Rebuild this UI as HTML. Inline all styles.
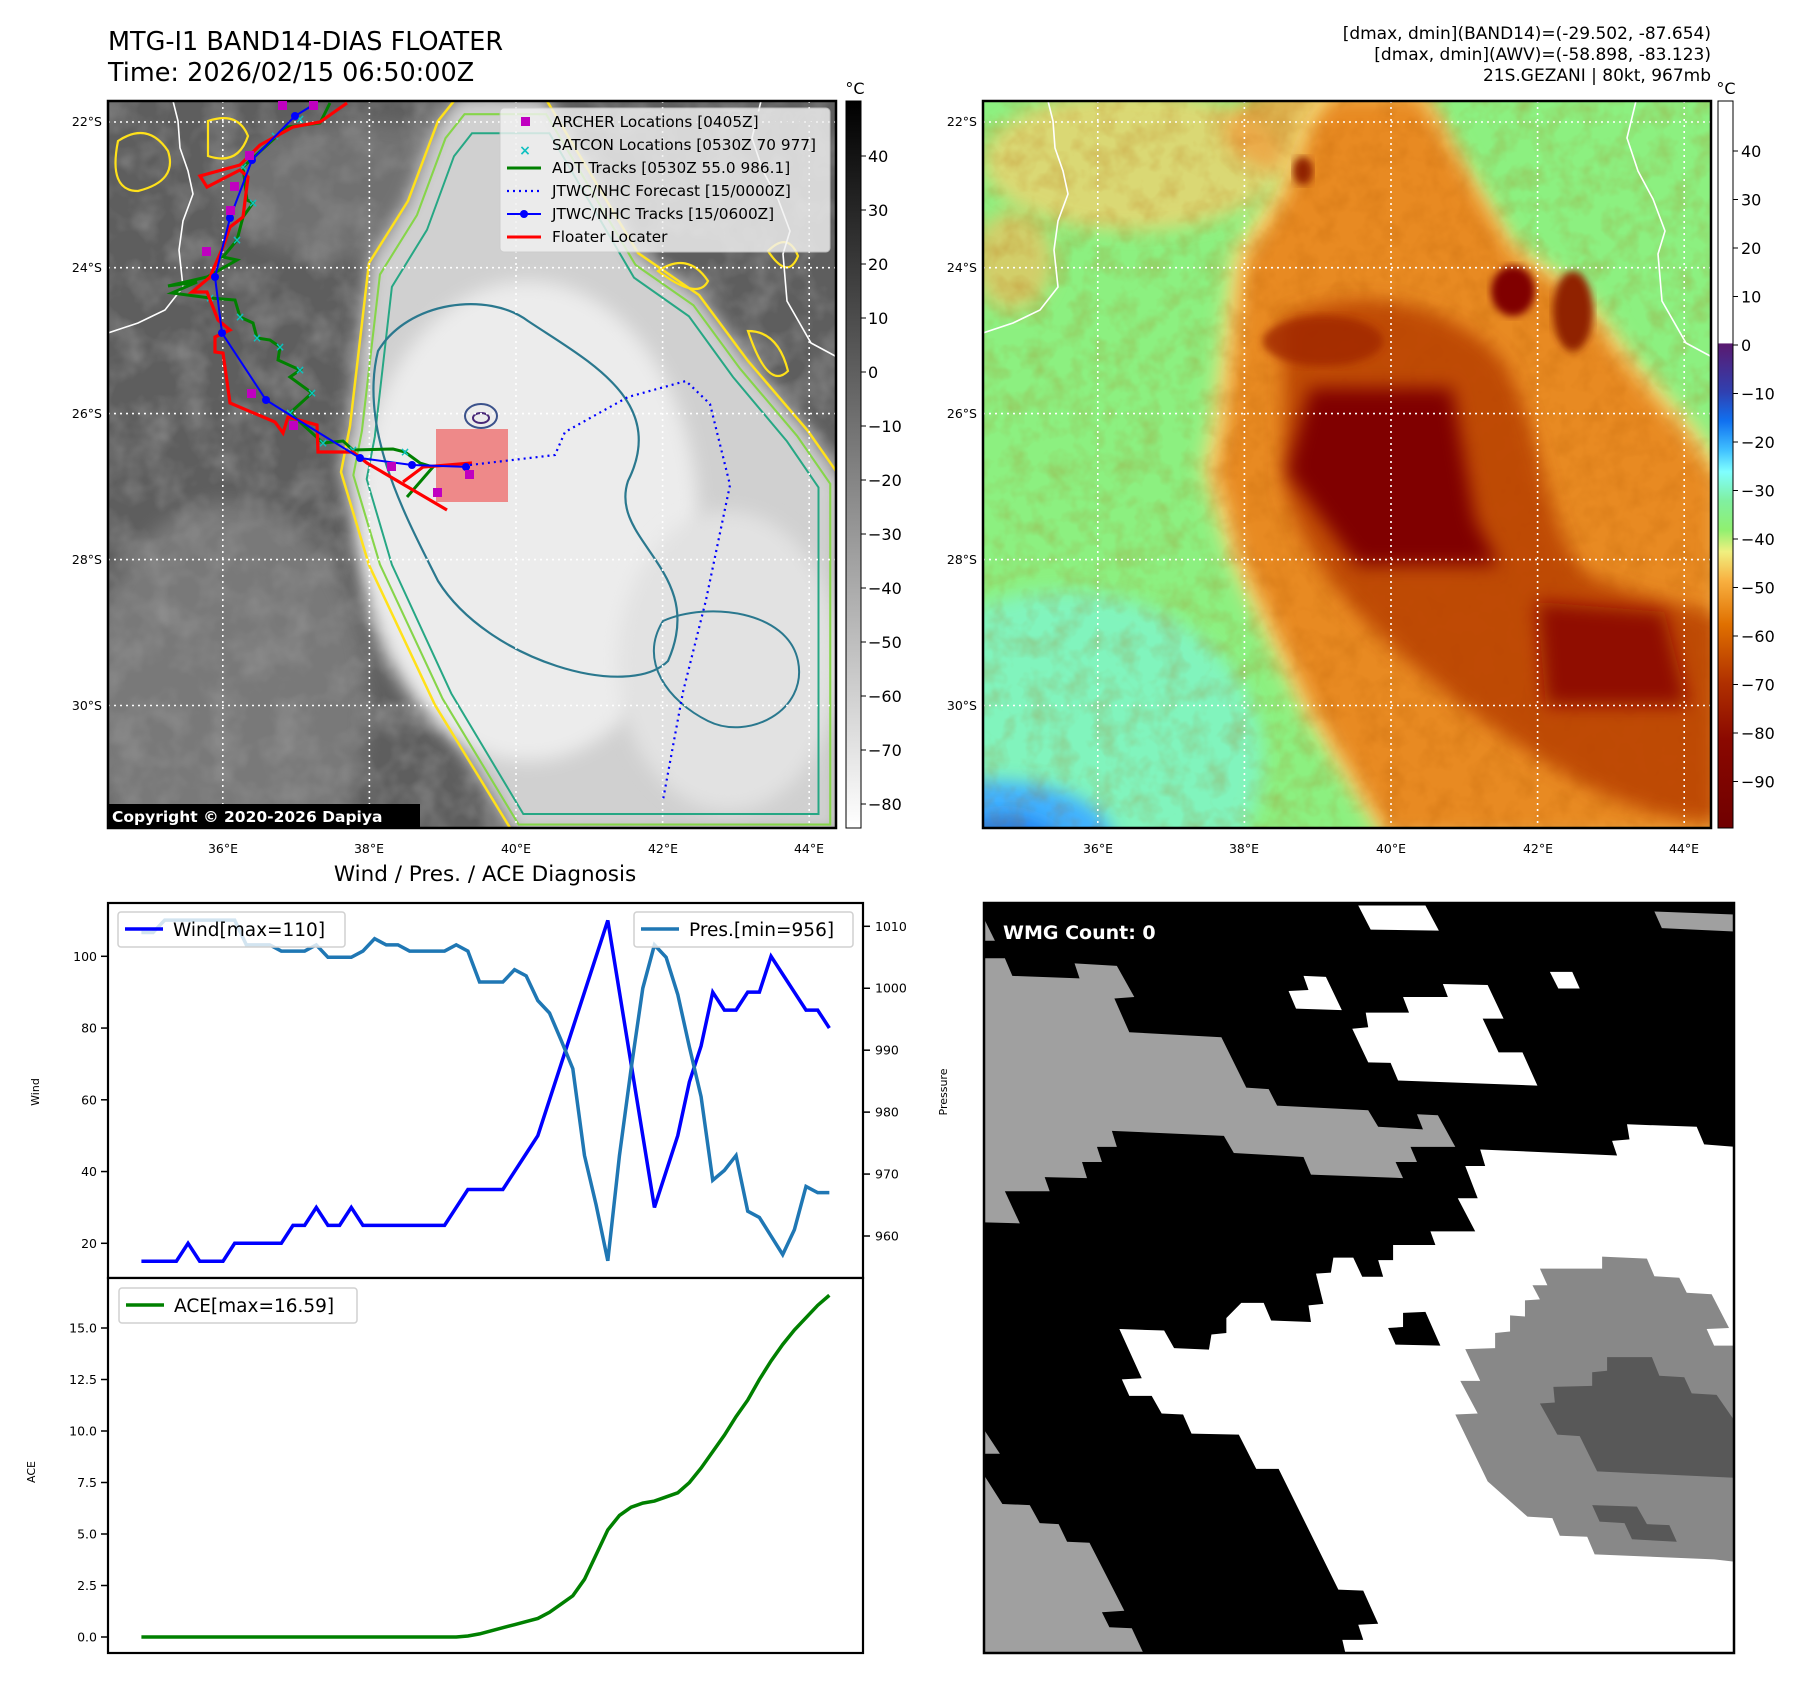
<!DOCTYPE html>
<html><head><meta charset="utf-8"><style>
html,body{margin:0;padding:0;background:#fff;}
svg{display:block;font-family:"DejaVu Sans","Liberation Sans",sans-serif;}
</style></head><body>
<svg id="fig" width="1801" height="1690" viewBox="0 0 1801 1690" xmlns="http://www.w3.org/2000/svg">
<defs>
  <clipPath id="mapclip"><rect x="0" y="0" width="728" height="727"/></clipPath>
  <clipPath id="wmgclip"><rect x="984" y="903" width="750" height="750"/></clipPath>
  <filter id="blur8" x="-20%" y="-20%" width="140%" height="140%"><feGaussianBlur stdDeviation="9"/></filter>
  <filter id="blur4"><feGaussianBlur stdDeviation="4"/></filter>
  <filter id="noise" x="0" y="0" width="100%" height="100%">
    <feTurbulence type="fractalNoise" baseFrequency="0.03" numOctaves="3" seed="4"/>
    <feColorMatrix type="matrix" values="0 0 0 0 1  0 0 0 0 1  0 0 0 0 1  1.4 0 0 0 -0.55"/>
  </filter>
  <filter id="noiseDark" x="0" y="0" width="100%" height="100%">
    <feTurbulence type="fractalNoise" baseFrequency="0.045" numOctaves="3" seed="9"/>
    <feColorMatrix type="matrix" values="0 0 0 0 0.45  0 0 0 0 0.1  0 0 0 0 0  1.5 0 0 0 -0.6"/>
  </filter>
  <linearGradient id="cbGray" x1="0" y1="0" x2="0" y2="1">
    <stop offset="0" stop-color="#000"/><stop offset="1" stop-color="#fff"/>
  </linearGradient>
  <linearGradient id="cbColor" x1="0" y1="0" x2="0" y2="1">
    <stop offset="0" stop-color="#fff"/>
    <stop offset="0.333" stop-color="#fff"/>
    <stop offset="0.334" stop-color="#5a1a70"/>
    <stop offset="0.40" stop-color="#3040b0"/>
    <stop offset="0.44" stop-color="#1070f0"/>
    <stop offset="0.48" stop-color="#40c0ff"/>
    <stop offset="0.51" stop-color="#80ffff"/>
    <stop offset="0.55" stop-color="#80f0a0"/>
    <stop offset="0.59" stop-color="#90f070"/>
    <stop offset="0.62" stop-color="#f0f080"/>
    <stop offset="0.66" stop-color="#f8b040"/>
    <stop offset="0.72" stop-color="#e07000"/>
    <stop offset="0.80" stop-color="#b03000"/>
    <stop offset="0.88" stop-color="#8a0800"/>
    <stop offset="1" stop-color="#700000"/>
  </linearGradient>
  <path id="stormOutline" d="M350,-5 L436,-5 L530,152 L591,194 L640,260 L700,330 L735,380 L735,735 L407,735 L327,604 L261,464 L233,371 L242,325 L261,162 L300,100 L330,20 Z"/>
</defs>

<!-- Titles -->
<text x="108" y="50" font-size="25.5">MTG-I1 BAND14-DIAS FLOATER</text>
<text x="108" y="81" font-size="25.5">Time: 2026/02/15 06:50:00Z</text>
<g font-size="17" text-anchor="end">
  <text x="1711" y="39">[dmax, dmin](BAND14)=(-29.502, -87.654)</text>
  <text x="1711" y="60">[dmax, dmin](AWV)=(-58.898, -83.123)</text>
  <text x="1711" y="81">21S.GEZANI | 80kt, 967mb</text>
</g>

<!-- LEFT MAP -->
<g transform="translate(108,101)">
  <g clip-path="url(#mapclip)">
    <rect width="728" height="727" fill="#5e5e5e"/>
    <rect width="728" height="727" filter="url(#noise)" opacity="0.3"/>
    <ellipse cx="120" cy="600" rx="140" ry="200" fill="#9a9a9a" opacity="0.45" filter="url(#blur8)"/>
    <ellipse cx="250" cy="90" rx="140" ry="70" fill="#8a8a8a" opacity="0.45" filter="url(#blur8)"/>
    <use href="#stormOutline" fill="#d0d0d0" filter="url(#blur8)"/>
    <ellipse cx="420" cy="420" rx="170" ry="240" fill="#ececec" filter="url(#blur8)"/>
    <ellipse cx="620" cy="560" rx="110" ry="150" fill="#e2e2e2" filter="url(#blur8)"/>
    <!-- contours -->
    <use href="#stormOutline" fill="none" stroke="#ffe11a" stroke-width="2.5"/>
    <use href="#stormOutline" fill="none" stroke="#86d549" stroke-width="2.2" transform="translate(480,450) scale(0.95,0.96) translate(-480,-450)"/>
    <use href="#stormOutline" fill="none" stroke="#26a784" stroke-width="2.2" transform="translate(490,460) scale(0.9,0.92) translate(-490,-460)"/>
    <path d="M270,250 C300,200 380,190 420,220 C480,260 560,300 520,380 C500,440 600,470 560,560 C520,600 380,560 330,480 C300,420 250,330 270,250 Z" fill="none" stroke="#2a788e" stroke-width="2.2"/>
    <path d="M555,520 C600,500 680,510 690,560 C700,610 640,640 600,620 C560,600 530,560 555,520 Z" fill="none" stroke="#2a788e" stroke-width="2"/>
    <ellipse cx="373" cy="315" rx="16" ry="12" fill="none" stroke="#3b528b" stroke-width="2"/>
    <ellipse cx="373" cy="317" rx="8" ry="5" fill="none" stroke="#482878" stroke-width="2"/>
    <path d="M10,40 q30,-20 50,10 q10,30 -30,40 q-30,0 -20,-50 Z M100,20 q30,-10 40,15 q-10,30 -40,20 Z M550,170 q30,-20 50,10 q-10,20 -50,-10 Z M660,150 q20,-20 30,5 q-10,25 -30,-5 Z M640,230 q30,0 40,40 q-20,20 -40,-40 Z" fill="none" stroke="#ffe11a" stroke-width="2.2"/>
    <g stroke="#fff" stroke-width="1.6" stroke-dasharray="2,4">
      <line x1="114.8" y1="0" x2="114.8" y2="727"/><line x1="261.4" y1="0" x2="261.4" y2="727"/><line x1="408" y1="0" x2="408" y2="727"/><line x1="554.6" y1="0" x2="554.6" y2="727"/><line x1="701.2" y1="0" x2="701.2" y2="727"/>
      <line x1="0" y1="21" x2="728" y2="21"/><line x1="0" y1="166.7" x2="728" y2="166.7"/><line x1="0" y1="312.6" x2="728" y2="312.6"/><line x1="0" y1="458.6" x2="728" y2="458.6"/><line x1="0" y1="604.5" x2="728" y2="604.5"/>
    </g>
    <g fill="none" stroke="#fff" stroke-width="1.6">
      <polyline points="65,0 70,20 72,47 80,70 85,93 75,120 71,149 75,186 57,209 30,222 0,232"/>
      <polyline points="653,0 644,37 655,70 670,98 682,130 675,153 679,200 703,242 729,256"/>
    </g>
  </g>
  <rect width="728" height="727" fill="none" stroke="#000" stroke-width="2.5"/>
</g>

<!-- Tracks on left map -->
<g>
  <rect x="436" y="429" width="72" height="73" fill="#f06060" opacity="0.7"/>
  <polyline fill="none" stroke="#008000" stroke-width="3" points="330,103 320,123 287,127 243,167 247,200 253,203 243,217 237,240 223,257 237,260 207,277 168,286 197,282 172,293 210,298 235,300 240,317 253,323 257,338 270,340 280,347 278,360 300,370 290,377 312,393 290,413 323,443 343,441 353,450 393,449 405,452 420,463 433,467 407,497"/>
  <g fill="#10c0c0" font-size="12" font-weight="bold" text-anchor="middle">
    <text x="243" y="171">×</text><text x="253" y="207">×</text><text x="237" y="244">×</text><text x="210" y="302">×</text><text x="240" y="321">×</text><text x="257" y="342">×</text><text x="280" y="351">×</text><text x="300" y="374">×</text><text x="312" y="397">×</text><text x="290" y="417">×</text><text x="323" y="447">×</text><text x="353" y="454">×</text><text x="405" y="456">×</text><text x="300" y="123">×</text><text x="275" y="140">×</text>
  </g>
  <polyline fill="none" stroke="#ff0000" stroke-width="3.2" points="347,103 320,122 293,127 260,145 240,165 200,176 207,187 240,170 248,177 243,217 230,227 223,247 210,277 192,292 207,292 218,320 230,330 215,337 215,352 223,353 230,403 275,422 283,433 288,417 317,425 318,452 353,452 367,463 447,510"/>
  <polyline fill="none" stroke="#ff0000" stroke-width="3.2" points="403,482 423,467 472,463"/>
  <polyline fill="none" stroke="#0000ff" stroke-width="2.2" stroke-dasharray="2,4" points="470,465 555,455 565,432 628,397 686,381 710,404 730,485 706,600 683,692 663,800"/>
  <polyline fill="none" stroke="#0000ff" stroke-width="2" points="313,105 295,116 252,160 230,218 215,277 222,333 266,400 290,415 360,458 412,465 470,467"/>
  <g fill="#0000ff">
    <circle cx="295" cy="116" r="4"/><circle cx="252" cy="160" r="4"/><circle cx="230" cy="218" r="4"/><circle cx="215" cy="277" r="4"/><circle cx="222" cy="333" r="4"/><circle cx="266" cy="400" r="4"/><circle cx="360" cy="458" r="4"/><circle cx="412" cy="465" r="4"/><circle cx="466" cy="467" r="4"/>
  </g>
  <g fill="#c000c0">
    <rect x="278" y="101" width="9" height="9"/><rect x="309" y="101" width="9" height="9"/><rect x="245" y="151" width="9" height="9"/><rect x="230" y="182" width="9" height="9"/><rect x="226" y="206" width="9" height="9"/><rect x="202" y="247" width="9" height="9"/><rect x="247" y="389" width="9" height="9"/><rect x="289" y="421" width="9" height="9"/><rect x="387" y="462" width="9" height="9"/><rect x="433" y="488" width="9" height="9"/><rect x="465" y="470" width="9" height="9"/>
  </g>
</g>

<!-- Left map legend -->
<g>
  <rect x="500" y="108" width="330" height="144" rx="4" fill="#f2f2f2" opacity="0.82" stroke="#ccc"/>
  <text x="640" y="124" font-size="17" font-weight="bold" fill="#d8d8d8">© EUMETSAT 2026</text>
  <g font-size="15.3" fill="#000">
    <rect x="521" y="117" width="9" height="9" fill="#c000c0"/><text x="552" y="127">ARCHER Locations [0405Z]</text>
    <text x="525" y="155" fill="#10c0c0" font-weight="bold" text-anchor="middle" font-size="14">×</text><text x="552" y="150">SATCON Locations [0530Z 70 977]</text>
    <line x1="507" y1="168" x2="541" y2="168" stroke="#008000" stroke-width="3"/><text x="552" y="173">ADT Tracks [0530Z 55.0 986.1]</text>
    <line x1="507" y1="191" x2="541" y2="191" stroke="#0000ff" stroke-width="2.2" stroke-dasharray="2,4"/><text x="552" y="196">JTWC/NHC Forecast [15/0000Z]</text>
    <line x1="507" y1="214" x2="541" y2="214" stroke="#0000ff" stroke-width="2"/><circle cx="524" cy="214" r="4" fill="#0000ff"/><text x="552" y="219">JTWC/NHC Tracks [15/0600Z]</text>
    <line x1="507" y1="237" x2="541" y2="237" stroke="#ff0000" stroke-width="3"/><text x="552" y="242">Floater Locater</text>
  </g>
</g>
<g>
  <rect x="108" y="804" width="312" height="24" fill="#000"/>
  <text x="112" y="822" font-size="15.5" font-weight="bold" fill="#fff">Copyright © 2020-2026 Dapiya</text>
</g>

<g font-size="12.5">
  <g text-anchor="end"><text x="102" y="126">22°S</text><text x="102" y="272">24°S</text><text x="102" y="418">26°S</text><text x="102" y="564">28°S</text><text x="102" y="710">30°S</text></g>
  <g text-anchor="middle"><text x="223" y="853">36°E</text><text x="369" y="853">38°E</text><text x="516" y="853">40°E</text><text x="663" y="853">42°E</text><text x="809" y="853">44°E</text></g>
</g>

<g>
  <rect x="846" y="101" width="15" height="727" fill="url(#cbGray)" stroke="#000" stroke-width="1"/>
  <text x="855" y="94" font-size="16" text-anchor="middle">°C</text>
  <g font-size="16" id="cbLeftTicks"></g>
</g>

<!-- RIGHT MAP -->
<g transform="translate(983,101)">
  <g clip-path="url(#mapclip)">
    <rect width="728" height="727" fill="#8cf080"/>
    <ellipse cx="80" cy="660" rx="200" ry="170" fill="#80f5c8" filter="url(#blur8)" opacity="0.85"/>
    <ellipse cx="10" cy="740" rx="120" ry="60" fill="#40b0ff" filter="url(#blur8)"/>
    <ellipse cx="20" cy="750" rx="60" ry="35" fill="#2080f0" filter="url(#blur8)"/>
    <ellipse cx="150" cy="60" rx="150" ry="70" fill="#f5d070" filter="url(#blur8)" opacity="0.75"/>
    <ellipse cx="30" cy="160" rx="40" ry="50" fill="#f0c060" filter="url(#blur8)" opacity="0.7"/>
    <ellipse cx="350" cy="30" rx="110" ry="50" fill="#f0a040" filter="url(#blur8)" opacity="0.8"/>
    <use href="#stormOutline" fill="#f5e080" filter="url(#blur8)" transform="translate(480,450) scale(1.06,1.03) translate(-480,-450)"/>
    <use href="#stormOutline" fill="#e88a20" filter="url(#blur8)"/>
    <rect width="728" height="727" filter="url(#noiseDark)" opacity="0.3"/>
    <path d="M300,220 C360,180 470,200 520,260 C560,330 560,420 600,470 C650,500 720,500 735,520 L735,720 C640,720 560,660 500,620 C420,560 320,480 300,380 Z" fill="#b84000" filter="url(#blur8)" opacity="0.85"/>
    <path d="M327,287 L469,287 L492,418 L516,464 L374,464 L304,371 Z" fill="#800000" filter="url(#blur8)"/>
    <path d="M554,501 L681,511 L705,604 L563,604 Z" fill="#901000" filter="url(#blur8)"/>
    <ellipse cx="340" cy="240" rx="60" ry="25" fill="#a02800" filter="url(#blur4)" opacity="0.8"/>
    <ellipse cx="530" cy="190" rx="22" ry="25" fill="#800000" filter="url(#blur4)"/>
    <ellipse cx="590" cy="210" rx="20" ry="40" fill="#902000" filter="url(#blur4)"/>
    <ellipse cx="320" cy="70" rx="10" ry="14" fill="#902000" filter="url(#blur4)"/>
    <g stroke="#fff" stroke-width="1.6" stroke-dasharray="2,4">
      <line x1="114.8" y1="0" x2="114.8" y2="727"/><line x1="261.4" y1="0" x2="261.4" y2="727"/><line x1="408" y1="0" x2="408" y2="727"/><line x1="554.6" y1="0" x2="554.6" y2="727"/><line x1="701.2" y1="0" x2="701.2" y2="727"/>
      <line x1="0" y1="21" x2="728" y2="21"/><line x1="0" y1="166.7" x2="728" y2="166.7"/><line x1="0" y1="312.6" x2="728" y2="312.6"/><line x1="0" y1="458.6" x2="728" y2="458.6"/><line x1="0" y1="604.5" x2="728" y2="604.5"/>
    </g>
    <g fill="none" stroke="#fff" stroke-width="1.6">
      <polyline points="65,0 70,20 72,47 80,70 85,93 75,120 71,149 75,186 57,209 30,222 0,232"/>
      <polyline points="653,0 644,37 655,70 670,98 682,130 675,153 679,200 703,242 729,256"/>
    </g>
  </g>
  <rect width="728" height="727" fill="none" stroke="#000" stroke-width="2.5"/>
</g>
<g font-size="12.5">
  <g text-anchor="end"><text x="977" y="126">22°S</text><text x="977" y="272">24°S</text><text x="977" y="418">26°S</text><text x="977" y="564">28°S</text><text x="977" y="710">30°S</text></g>
  <g text-anchor="middle"><text x="1098" y="853">36°E</text><text x="1244" y="853">38°E</text><text x="1391" y="853">40°E</text><text x="1538" y="853">42°E</text><text x="1684" y="853">44°E</text></g>
</g>
<g>
  <rect x="1718" y="101" width="15" height="727" fill="url(#cbColor)" stroke="#000" stroke-width="1"/>
  <text x="1726" y="94" font-size="16" text-anchor="middle">°C</text>
  <g font-size="16" id="cbRightTicks"></g>
</g>

<!-- Diagnosis chart -->
<text x="485" y="881" font-size="21.5" text-anchor="middle">Wind / Pres. / ACE Diagnosis</text>
<g id="diag"></g>
<text transform="translate(39,1092) rotate(-90)" font-size="11" text-anchor="middle">Wind</text>
<text transform="translate(947,1092) rotate(-90)" font-size="11" text-anchor="middle">Pressure</text>
<text transform="translate(35,1472) rotate(-90)" font-size="11" text-anchor="middle">ACE</text>

<!-- WMG panel -->
<g>
  <g clip-path="url(#wmgclip)">
    <rect x="984" y="903" width="750" height="750" fill="#000"/>
    <g transform="translate(980,890.4) scale(0.4977,0.503)">
      <polygon fill="#a0a0a0" points="10,135 50,135 65,170 200,175 190,145 275,150 310,212 270,215 300,282 485,292 535,392 580,395 597,428 780,437 800,470 890,475 878,445 920,447 955,510 865,510 878,540 835,540 850,572 665,565 650,530 510,522 490,488 265,478 275,510 235,510 245,540 205,540 215,572 130,570 140,598 50,598 80,662 10,660"/>
      <polygon fill="#fff" points="280,872 370,875 390,910 460,913 465,883 495,880 495,850 525,820 570,820 585,855 665,858 660,825 690,822 675,762 705,760 710,730 750,730 768,768 810,768 800,735 830,735 830,705 915,705 905,678 995,678 960,612 1000,612 975,548 1015,548 1005,515 1280,527 1270,498 1305,495 1300,465 1440,470 1455,505 1520,510 1520,1520 735,1520 728,1490 770,1490 760,1460 800,1458 770,1392 720,1390 600,1150 555,1150 520,1082 425,1080 408,1042 365,1040 345,1005 300,1005 285,972 325,970"/>
      <polygon fill="#000" points="820,870 850,868 850,840 895,838 925,905 835,903"/>
      <polygon fill="#888" points="1125,752 1250,752 1250,728 1340,732 1355,767 1405,770 1420,800 1470,803 1505,870 1460,872 1475,905 1520,905 1520,1100 1490,1103 1520,1140 1520,1335 1475,1330 1235,1320 1220,1285 1165,1283 1150,1248 1100,1245 1020,1175 955,1042 1000,1040 965,975 1005,975 975,912 1035,910 1035,880 1065,877 1065,845 1095,847 1095,815 1125,813 1110,785 1140,785"/>
      <polygon fill="#585858" points="1260,928 1350,928 1365,965 1415,968 1430,1000 1480,1003 1520,1060 1520,1168 1240,1155 1205,1085 1160,1082 1125,1020 1155,1018 1152,987 1230,985 1230,958 1260,955"/>
      <polygon fill="#585858" points="1230,1222 1320,1225 1340,1260 1385,1262 1400,1295 1310,1290 1295,1258 1245,1255"/>
      <polygon fill="#fff" points="760,30 895,30 922,80 785,78"/>
      <polygon fill="#fff" points="620,200 660,198 650,170 695,172 727,238 635,235"/>
      <polygon fill="#fff" points="748,275 780,272 775,243 862,243 850,212 940,212 930,186 1020,188 1052,255 1010,255 1042,322 1090,322 1120,388 840,378 825,343 780,342"/>
      <polygon fill="#fff" points="1145,162 1190,162 1205,195 1162,195"/>
      <polygon fill="#a0a0a0" points="1355,42 1520,48 1520,82 1370,75"/>
      <polygon fill="#a0a0a0" points="10,60 30,100 10,100"/>
      <polygon fill="#a0a0a0" points="0,1150 45,1220 100,1222 120,1258 158,1260 175,1295 220,1297 290,1432 245,1435 260,1465 305,1467 330,1520 0,1520"/>
      <polygon fill="#a0a0a0" points="0,1060 40,1120 0,1120"/>
    </g>
  </g>
  <rect x="984" y="903" width="750" height="750" fill="none" stroke="#000" stroke-width="2.5"/>
  <text x="1003" y="939" font-size="19" font-weight="bold" fill="#fff">WMG Count: 0</text>
</g>

<script>
const windValues = [15,15,15,15,20,15,15,15,20,20,20,20,20,25,25,30,25,25,30,25,25,25,25,25,25,25,25,30,35,35,35,35,40,45,50,60,70,80,90,100,110,90,70,50,30,40,50,65,75,90,85,85,90,90,100,95,90,85,85,80];
const presValues = [1009,1009,1011,1011,1011,1011,1011,1011,1011,1007,1007,1007,1006,1006,1006,1007,1005,1005,1005,1006,1008,1007,1007,1006,1006,1006,1006,1007,1006,1001,1001,1001,1003,1002,998,996,991.6,987,973,965,956,973,987,1000,1007,1005,999,990.5,982.5,969,970.6,973,964,963,960,957,961,968,967,967];
const aceValues = [0,0,0,0,0,0,0,0,0,0,0,0,0,0,0,0,0,0,0,0,0,0,0,0,0,0,0,0,0.05,0.15,0.3,0.45,0.6,0.75,0.9,1.2,1.6,2.0,2.8,4.0,5.2,5.9,6.3,6.5,6.6,6.8,7.0,7.5,8.2,9.0,9.8,10.7,11.5,12.5,13.4,14.2,14.9,15.5,16.1,16.59];
const windTicks = [20,40,60,80,100];
const presTicks = [960,970,980,990,1000,1010];
const aceTicks = [0,2.5,5,7.5,10,12.5,15];
const cbLeftTicks = [40,30,20,10,0,-10,-20,-30,-40,-50,-60,-70,-80];
const cbRightTicks = [40,30,20,10,0,-10,-20,-30,-40,-50,-60,-70,-80,-90];

const NS = 'http://www.w3.org/2000/svg';
function mk(tag, attrs, parent){const e=document.createElementNS(NS,tag);for(const k in attrs)e.setAttribute(k,attrs[k]);parent.appendChild(e);return e;}

const xIdx = i => 141.4 + 11.66*i;
const yWind = v => 956.3 - (v-100)*3.5875;
const yPres = p => 1236 - (p-960)*6.194;
const yAce = a => 1637 - a*20.6;
const yCbL = t => 156 + (40-t)*5.4;
const yCbR = t => 345 - t*4.85;

const diag = document.getElementById('diag');

let r = mk('rect',{x:108,y:903,width:755,height:375,fill:'#fff',stroke:'#000','stroke-width':2.2},diag);


r = mk('rect',{x:108,y:1278,width:755,height:375,fill:'#fff',stroke:'#000','stroke-width':2.2},diag);



windTicks.forEach(v=>{
  const y=yWind(v);
  mk('line',{x1:101,y1:y,x2:108,y2:y,stroke:'#000','stroke-width':1.5},diag);
  const t=mk('text',{x:97,y:y+4.5,'font-size':12.5,'text-anchor':'end'},diag);
  t.textContent=v;
  
  
});
presTicks.forEach(v=>{
  const y=yPres(v);
  mk('line',{x1:863,y1:y,x2:870,y2:y,stroke:'#000','stroke-width':1.5},diag);
  const t=mk('text',{x:875,y:y+4.5,'font-size':12.5},diag);
  t.textContent=v;
  
  
});
aceTicks.forEach(v=>{
  const y=yAce(v);
  mk('line',{x1:101,y1:y,x2:108,y2:y,stroke:'#000','stroke-width':1.5},diag);
  const t=mk('text',{x:97,y:y+4.5,'font-size':12.5,'text-anchor':'end'},diag);
  t.textContent=v.toFixed(1);
  
  
});

const pl = mk('polyline',{fill:'none',stroke:'#0000ff','stroke-width':3.5,points:windValues.map((v,i)=>xIdx(i)+','+yWind(v)).join(' ')},diag);


const pp = mk('polyline',{fill:'none',stroke:'#1f77b4','stroke-width':3.5,points:presValues.map((v,i)=>xIdx(i)+','+yPres(v)).join(' ')},diag);


const pa = mk('polyline',{fill:'none',stroke:'#008000','stroke-width':3.5,points:aceValues.map((v,i)=>xIdx(i)+','+yAce(v)).join(' ')},diag);



function legend(x,y,w,color,label,name){
  const g=mk('g',{},diag);
  
  
  mk('rect',{x:x,y:y,width:w,height:35,rx:3,fill:'#fff','fill-opacity':0.8,stroke:'#d0d0d0','stroke-width':1.5},g);
  mk('line',{x1:x+7,y1:y+17,x2:x+45,y2:y+17,stroke:color,'stroke-width':3.5},g);
  const t=mk('text',{x:x+55,y:y+24,'font-size':18.5},g);
  t.textContent=label;
}
legend(118,912,227,'#0000ff','Wind[max=110]','wind-legend');
legend(634,912,219,'#1f77b4','Pres.[min=956]','pressure-legend');
legend(119,1288,238,'#008000','ACE[max=16.59]','ace-legend');

const gl=document.getElementById('cbLeftTicks');
cbLeftTicks.forEach(v=>{
  const y=yCbL(v);
  mk('line',{x1:861,y1:y,x2:866,y2:y,stroke:'#000','stroke-width':1},gl);
  const t=mk('text',{x:868,y:y+6},gl);
  t.textContent=(v<0?'\u2212'+(-v):v);
  
  
});
const gr=document.getElementById('cbRightTicks');
cbRightTicks.forEach(v=>{
  const y=yCbR(v);
  mk('line',{x1:1733,y1:y,x2:1738,y2:y,stroke:'#000','stroke-width':1},gr);
  const t=mk('text',{x:1741,y:y+6},gr);
  t.textContent=(v<0?'\u2212'+(-v):v);
  
  
});
</script>
</svg>
</body></html>
